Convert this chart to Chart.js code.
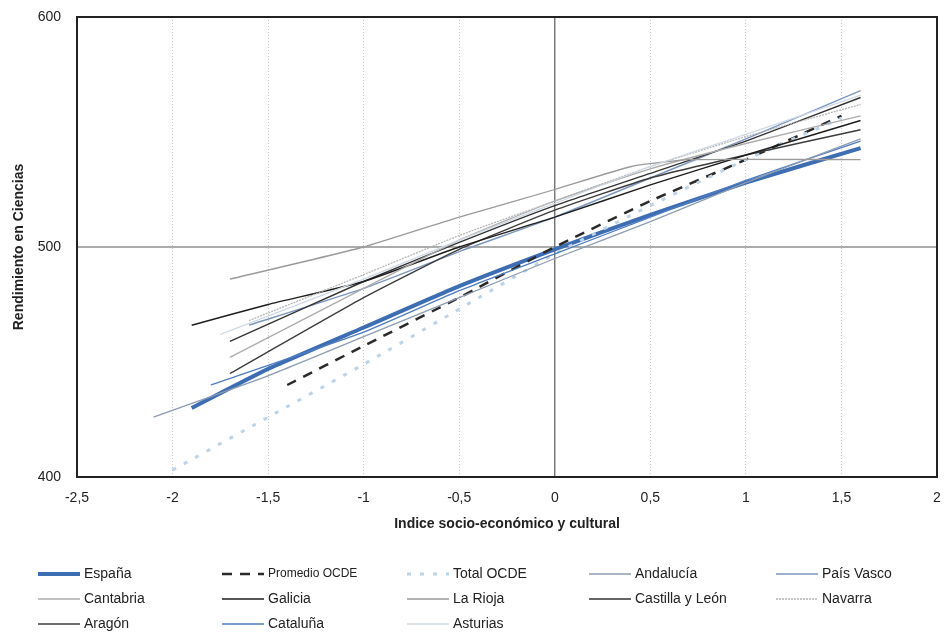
<!DOCTYPE html>
<html>
<head>
<meta charset="utf-8">
<script src="https://cdn.jsdelivr.net/npm/chart.js@4"></script>
<style>
  html, body { margin: 0; padding: 0; background: #fff; }
  #wrap { width: 944px; height: 637px; position: relative; }
</style>
</head>
<body>
<div id="wrap"><canvas id="chart"></canvas></div>
<script>
// x ticks of the socio-economic index
const xTicks = [-2.5, -2, -1.5, -1, -0.5, 0, 0.5, 1, 1.5, 2];
const yTicks = [400, 500, 600];

// series (x = index, y = score)
const espanaX = [-1.9, -1.5, -1, -0.5, 0, 0.5, 1, 1.6];
const espanaY = [430, 447, 465, 483, 499, 514, 528, 543];
const promedioX = [-1.4, -1, -0.5, 0, 0.5, 1, 1.5];
const promedioY = [440, 457, 478, 500, 520, 538, 557];
const totalX = [-2, -1.5, -1, -0.5, 0, 0.5, 1, 1.5];
const totalY = [403, 426, 449, 473, 497, 518, 538, 556];
const andaluciaX = [-2.1, -1.5, -1, -0.5, 0, 0.5, 1, 1.6];
const andaluciaY = [426, 444, 461, 478, 495, 511, 528, 547];
const paisVascoX = [-1.6, -1, -0.5, 0, 0.5, 1, 1.6];
const paisVascoY = [466, 482, 498, 513, 530, 547, 568];
const cantabriaX = [-1.7, -1, -0.5, 0, 0.5, 1, 1.6];
const cantabriaY = [452, 482, 503, 520, 534, 545, 557];
const galiciaX = [-1.9, -1.5, -1, -0.5, 0, 0.5, 1, 1.6];
const galiciaY = [466, 475, 485, 500, 513, 527, 540, 555];
const riojaX = [-1.7, -1, -0.5, 0, 0.4, 0.7, 1.6];
const riojaY = [486, 500, 513, 525, 535, 538, 538];
const castillaX = [-1.7, -1, -0.5, 0, 0.5, 1, 1.6];
const castillaY = [459, 485, 502, 518, 532, 546, 565];
const navarraX = [-1.6, -1, -0.5, 0, 0.5, 1, 1.6];
const navarraY = [468, 488, 505, 520, 535, 548, 562];
const aragonX = [-1.7, -1, -0.5, 0, 0.5, 1, 1.6];
const aragonY = [445, 478, 499, 516, 530, 540, 551];
const catalunaX = [-1.8, -1, -0.5, 0, 0.5, 1, 1.6];
const catalunaY = [440, 463, 481, 497, 513, 529, 546];
const asturiasX = [-1.75, -1, -0.5, 0, 0.5, 1, 1.6];
const asturiasY = [462, 486, 503, 519, 535, 549, 566];

function pts(xs, ys) {
  return xs.map((x, i) => ({ x: x, y: ys[i] }));
}

function line(label, xs, ys, color, width, dash) {
  return {
    label: label,
    data: pts(xs, ys),
    borderColor: color,
    backgroundColor: color,
    borderWidth: width,
    borderDash: dash || [],
    pointRadius: 0,
    tension: 0.15,
    fill: false
  };
}

// drawing order: light lines first, España on top
const datasets = [
  line('Asturias', asturiasX, asturiasY, '#cfd9e4', 1.3),
  line('Navarra', navarraX, navarraY, '#b5b5b5', 1.3, [2, 1]),
  line('La Rioja', riojaX, riojaY, '#9a9a9a', 1.3),
  line('Cantabria', cantabriaX, cantabriaY, '#acacac', 1.3),
  line('Andalucía', andaluciaX, andaluciaY, '#8c9cb2', 1.3),
  line('Galicia', galiciaX, galiciaY, '#1e1e1e', 1.4),
  line('Castilla y León', castillaX, castillaY, '#333333', 1.4),
  line('Aragón', aragonX, aragonY, '#3c3c3c', 1.4),
  line('País Vasco', paisVascoX, paisVascoY, '#7c96bf', 1.4),
  line('Cataluña', catalunaX, catalunaY, '#4f7cc0', 1.3),
  line('Total OCDE', totalX, totalY, '#bcd3e8', 3, [4, 9]),
  line('Promedio OCDE', promedioX, promedioY, '#2a2a2a', 2.5, [10, 8]),
  line('España', espanaX, espanaY, '#3d6db3', 4)
];

const legendOrder = [
  ['España', 'Promedio OCDE', 'Total OCDE', 'Andalucía', 'País Vasco'],
  ['Cantabria', 'Galicia', 'La Rioja', 'Castilla y León', 'Navarra'],
  ['Aragón', 'Cataluña', 'Asturias']
];

const refLines = {
  id: 'refLines',
  beforeDatasetsDraw(chart) {
    const { ctx, chartArea, scales } = chart;
    const x0 = scales.x.getPixelForValue(0);
    const y500 = scales.y.getPixelForValue(500);
    ctx.save();
    ctx.strokeStyle = '#5a5a5a';
    ctx.lineWidth = 1.2;
    ctx.beginPath();
    ctx.moveTo(x0, chartArea.top);
    ctx.lineTo(x0, chartArea.bottom);
    ctx.moveTo(chartArea.left, y500);
    ctx.lineTo(chartArea.right, y500);
    ctx.stroke();
    ctx.restore();
  },
  afterDraw(chart) {
    const { ctx, chartArea } = chart;
    ctx.save();
    ctx.strokeStyle = '#222';
    ctx.lineWidth = 2;
    ctx.strokeRect(chartArea.left, chartArea.top,
      chartArea.right - chartArea.left, chartArea.bottom - chartArea.top);

    // legend, drawn in the bottom padding
    const colX = [84, 268, 453, 635, 822];
    const rowY = [574, 599, 624];
    ctx.textBaseline = 'middle';
    legendOrder.forEach((row, r) => {
      row.forEach((label, c) => {
        const ds = chart.data.datasets.find(d => d.label === label);
        const tx = colX[c];
        const ty = rowY[r];
        ctx.save();
        ctx.strokeStyle = ds.borderColor;
        ctx.lineWidth = ds.borderWidth;
        ctx.setLineDash(ds.borderDash);
        ctx.beginPath();
        ctx.moveTo(tx - 46, ty);
        ctx.lineTo(tx - 4, ty);
        ctx.stroke();
        ctx.restore();
        ctx.font = (label === 'Promedio OCDE' ? '12px' : '14px') + ' "Liberation Sans", Arial, sans-serif';
        ctx.fillStyle = '#222';
        ctx.fillText(label, tx, ty);
      });
    });
    ctx.restore();
  }
};

new Chart(document.getElementById('chart'), {
  type: 'line',
  data: { datasets: datasets },
  plugins: [refLines],
  options: {
    responsive: true,
    maintainAspectRatio: false,
    animation: false,
    layout: { padding: { left: 7, right: 7, top: 17, bottom: 100 } },
    plugins: {
      legend: { display: false },
      tooltip: { enabled: false }
    },
    scales: {
      x: {
        type: 'linear',
        min: -2.5,
        max: 2,
        afterBuildTicks: s => { s.ticks = xTicks.map(v => ({ value: v })); },
        afterFit: s => { s.height = 60; s.paddingLeft = 0; s.paddingRight = 0; },
        grid: {
          color: ctx => (ctx.tick && (ctx.tick.value === -2.5 || ctx.tick.value === 0 || ctx.tick.value === 2)) ? 'rgba(0,0,0,0)' : '#c8c8c8',
          lineWidth: 1,
          drawTicks: false
        },
        border: { display: false, dash: [1, 2] },
        ticks: {
          padding: 13,
          color: '#222',
          font: { family: '"Liberation Sans", Arial, sans-serif', size: 14 },
          callback: v => String(v).replace('.', ',')
        },
        title: {
          display: true,
          text: 'Indice socio-económico y cultural',
          color: '#222',
          padding: { top: 2 },
          font: { family: '"Liberation Sans", Arial, sans-serif', size: 14, weight: 'bold' }
        }
      },
      y: {
        min: 400,
        max: 600,
        afterBuildTicks: s => { s.ticks = yTicks.map(v => ({ value: v })); },
        afterFit: s => { s.width = 70; s.paddingTop = 0; s.paddingBottom = 0; },
        grid: { display: false },
        border: { display: false },
        ticks: {
          padding: 8,
          color: '#222',
          font: { family: '"Liberation Sans", Arial, sans-serif', size: 14 }
        },
        title: {
          display: true,
          text: 'Rendimiento en Ciencias',
          color: '#222',
          padding: { bottom: 4 },
          font: { family: '"Liberation Sans", Arial, sans-serif', size: 14, weight: 'bold' }
        }
      }
    }
  }
});
</script>
</body>
</html>
